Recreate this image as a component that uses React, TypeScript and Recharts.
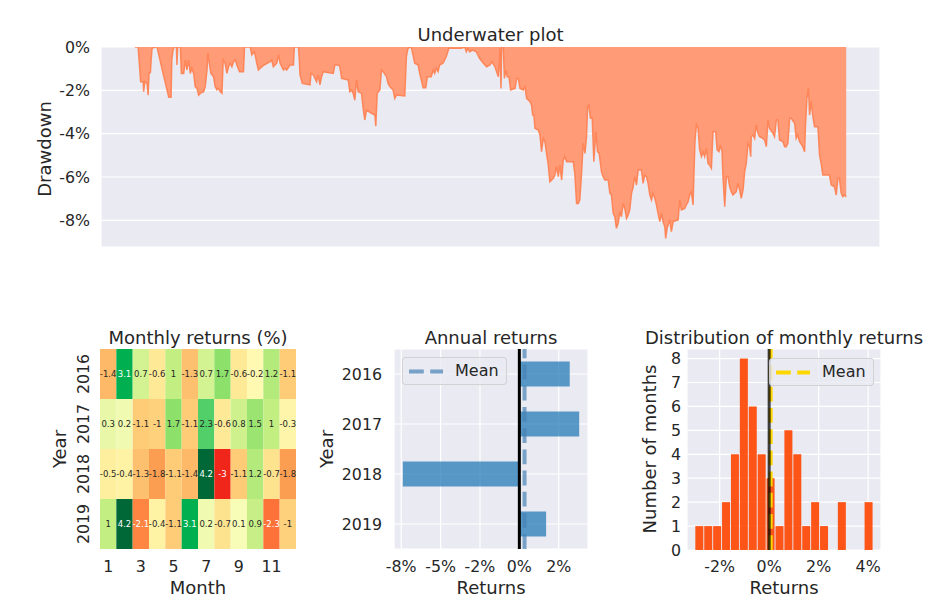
import React from "react";
import {
  AreaChart,
  Area,
  BarChart,
  Bar,
  Cell,
  LabelList,
  XAxis,
  YAxis,
  CartesianGrid,
  ReferenceLine,
} from "recharts";

const FONT = "'DejaVu Sans', sans-serif";
const INK = "#262626";
const PANEL = "#EAEAF2";

// underwater plot: [date as fractional year, drawdown in %]
const uw2016: [number, number][] = [
  [2016.0, 0], [2016.019, 0], [2016.022, -0.37], [2016.033, -1.6], [2016.047, -1.6], [2016.05, -2.06],
  [2016.056, -1.6], [2016.069, -1.68], [2016.075, -2.22], [2016.08, -1.22], [2016.088, -1.17], [2016.092, -0.6],
  [2016.097, -0.06], [2016.116, 0], [2016.125, 0], [2016.159, -1.22], [2016.191, -2.32], [2016.204, -2.32],
  [2016.208, -0.6], [2016.215, -0.14], [2016.222, 0], [2016.234, 0], [2016.237, -0.83], [2016.241, 0],
  [2016.256, 0], [2016.262, -1.22], [2016.275, -1.22], [2016.284, -0.6], [2016.293, -1.06], [2016.303, -0.6],
  [2016.312, -1.22], [2016.321, -0.98], [2016.331, -1.22], [2016.34, -1.83], [2016.35, -1.91], [2016.359, -2.22],
  [2016.368, -2.14], [2016.387, -2.06], [2016.396, -1.83], [2016.406, -1.06], [2016.411, -0.29], [2016.419, -0.75],
  [2016.428, -1.22], [2016.443, -1.37], [2016.452, -1.83], [2016.462, -1.98], [2016.471, -1.91], [2016.48, -2.06],
  [2016.49, -2.14], [2016.497, -0.6], [2016.508, -0.75], [2016.518, -1.22], [2016.527, -0.91], [2016.536, -0.75],
  [2016.546, -0.91], [2016.555, -0.68], [2016.565, -0.6], [2016.574, -0.83], [2016.589, -1.14], [2016.611, -1.14],
  [2016.617, 0], [2016.649, 0], [2016.658, -0.37], [2016.671, -0.22], [2016.677, -0.37], [2016.686, -0.75],
  [2016.695, -1.06], [2016.705, -0.98], [2016.727, -0.83], [2016.761, -0.68], [2016.77, -0.6], [2016.779, -0.91],
  [2016.798, -0.75], [2016.808, -0.37], [2016.817, -0.75], [2016.836, -1.06], [2016.845, -0.98], [2016.854, -1.06],
  [2016.873, -0.83], [2016.892, -0.83], [2016.897, 0], [2016.92, 0], [2016.925, -0.6], [2016.929, -1.29],
  [2016.942, -1.68], [2016.985, -1.75], [2016.991, -1.22],
];
const uw2017: [number, number][] = [
  [2017.004, -1.29], [2017.022, -1.6], [2017.031, -1.29], [2017.041, -1.75], [2017.05, -1.37], [2017.06, -1.14],
  [2017.116, -1.22], [2017.125, -0.83], [2017.144, -0.83], [2017.153, -0.91], [2017.163, -1.45], [2017.2, -1.52],
  [2017.209, -2.06], [2017.219, -1.98], [2017.228, -2.14], [2017.237, -2.45], [2017.247, -1.52], [2017.256, -2.06],
  [2017.275, -2.14], [2017.284, -2.83], [2017.293, -3.37], [2017.303, -2.91], [2017.331, -3.06], [2017.35, -3.14],
  [2017.355, -3.65], [2017.363, -2.14], [2017.378, -1.98], [2017.387, -1.06], [2017.396, -1.14], [2017.415, -1.37],
  [2017.424, -1.68], [2017.434, -1.83], [2017.452, -1.98], [2017.462, -2.37], [2017.471, -2.22], [2017.518, -2.26],
  [2017.527, -0.45], [2017.536, -0.06], [2017.555, 0], [2017.574, -0.75], [2017.593, -0.83], [2017.602, -1.22],
  [2017.611, -1.52], [2017.621, -1.88], [2017.636, -1.88], [2017.645, -1.37], [2017.667, -1.37], [2017.677, -1.06],
  [2017.686, -1.22], [2017.695, -0.98], [2017.705, -1.14], [2017.714, -0.83], [2017.733, -0.75], [2017.751, -0.45],
  [2017.766, -0.06], [2017.836, -0.06], [2017.855, 0], [2017.864, -0.22], [2017.873, -0.06], [2017.882, -0.22],
  [2017.901, -0.14], [2017.92, -0.22], [2017.938, -0.52], [2017.96, -0.75], [2017.978, -0.91], [2017.997, -0.83],
];
const uw2018: [number, number][] = [
  [2018.007, -0.68], [2018.025, -0.91], [2018.044, -1.37], [2018.05, -0.75], [2018.053, -0.06], [2018.059, -1.91],
  [2018.063, 0], [2018.072, 0], [2018.078, -1.45], [2018.087, -1.06], [2018.094, -1.37], [2018.104, -1.37],
  [2018.113, -1.98], [2018.138, -1.91], [2018.147, -1.45], [2018.156, -1.45], [2018.166, -1.91], [2018.184, -1.98],
  [2018.194, -1.83], [2018.203, -2.37], [2018.222, -2.52], [2018.231, -2.68], [2018.237, -3.14], [2018.244, -3.14],
  [2018.25, -3.75], [2018.269, -3.83], [2018.278, -4.06], [2018.287, -4.83], [2018.297, -4.22], [2018.306, -4.37],
  [2018.315, -4.91], [2018.325, -5.45], [2018.334, -6.22], [2018.353, -6.06], [2018.362, -5.91], [2018.371, -5.52],
  [2018.381, -5.98], [2018.39, -5.45], [2018.4, -6.14], [2018.409, -5.22], [2018.418, -5.06], [2018.428, -5.29],
  [2018.465, -5.29], [2018.474, -5.83], [2018.484, -7.22], [2018.493, -7.22], [2018.502, -7.06], [2018.512, -5.83],
  [2018.521, -4.45], [2018.531, -4.91], [2018.54, -4.14], [2018.546, -2.75], [2018.553, -2.68], [2018.562, -3.29],
  [2018.572, -3.29], [2018.581, -5.29], [2018.592, -3.91], [2018.602, -4.83], [2018.611, -4.91], [2018.624, -5.75],
  [2018.633, -5.98], [2018.643, -6.14], [2018.662, -6.14], [2018.671, -6.75], [2018.68, -6.83], [2018.69, -7.68],
  [2018.699, -7.83], [2018.708, -8.37], [2018.718, -8.14], [2018.727, -7.6], [2018.736, -7.83], [2018.746, -7.22],
  [2018.755, -7.45], [2018.765, -7.91], [2018.774, -7.75], [2018.783, -7.52], [2018.793, -6.75], [2018.802, -6.45],
  [2018.811, -5.98], [2018.821, -6.37], [2018.83, -5.68], [2018.849, -5.68], [2018.858, -6.29], [2018.867, -5.91],
  [2018.877, -5.98], [2018.886, -6.29], [2018.896, -6.83], [2018.905, -7.06], [2018.914, -6.75], [2018.924, -6.98],
  [2018.933, -7.29], [2018.942, -7.68], [2018.952, -8.06], [2018.961, -7.68], [2018.97, -8.06], [2018.98, -8.29],
  [2018.985, -8.83], [2018.993, -8.37],
];
const uw2019: [number, number][] = [
  [2019.008, -7.98], [2019.017, -8.52], [2019.027, -8.06], [2019.055, -7.98], [2019.064, -7.06], [2019.073, -7.52],
  [2019.092, -7.45], [2019.101, -7.29], [2019.111, -7.14], [2019.12, -6.83], [2019.129, -6.68], [2019.139, -7.29],
  [2019.144, -5.83], [2019.15, -4.29], [2019.158, -3.6], [2019.167, -3.75], [2019.176, -4.75], [2019.186, -5.06],
  [2019.195, -4.83], [2019.204, -5.06], [2019.214, -4.68], [2019.223, -5.37], [2019.232, -5.45], [2019.242, -5.6],
  [2019.251, -3.91], [2019.266, -3.91], [2019.274, -4.75], [2019.285, -4.83], [2019.292, -4.52], [2019.302, -4.83],
  [2019.307, -5.98], [2019.317, -7.37], [2019.326, -5.98], [2019.335, -5.98], [2019.345, -6.45], [2019.354, -6.68],
  [2019.363, -6.83], [2019.382, -6.68], [2019.391, -6.29], [2019.401, -6.6], [2019.41, -6.98], [2019.42, -6.6],
  [2019.429, -5.75], [2019.438, -5.37], [2019.448, -4.45], [2019.457, -4.6], [2019.463, -5.06], [2019.466, -4.14],
  [2019.476, -4.06], [2019.485, -4.22], [2019.494, -3.6], [2019.504, -3.98], [2019.513, -4.14], [2019.532, -4.22],
  [2019.541, -4.29], [2019.551, -4.6], [2019.56, -3.37], [2019.569, -3.75], [2019.588, -3.98], [2019.597, -4.14],
  [2019.607, -3.37], [2019.616, -3.37], [2019.625, -4.29], [2019.644, -4.37], [2019.654, -4.6], [2019.663, -4.6],
  [2019.672, -4.45], [2019.682, -3.29], [2019.691, -3.29], [2019.71, -3.52], [2019.719, -4.22], [2019.728, -4.06],
  [2019.738, -4.37], [2019.756, -4.6], [2019.766, -4.83], [2019.771, -3.6], [2019.779, -2.37], [2019.788, -1.91],
  [2019.794, -3.14], [2019.803, -2.52], [2019.813, -3.22], [2019.822, -3.68], [2019.841, -3.68], [2019.85, -4.98],
  [2019.859, -5.37], [2019.869, -5.91], [2019.906, -5.91], [2019.916, -6.37], [2019.934, -6.45], [2019.944, -6.83],
  [2019.953, -6.06], [2019.962, -6.06], [2019.972, -6.75], [2019.981, -6.91], [2019.99, -6.83], [2020.0, -6.91],
];
const uwTicks = [2016, 2016.5, 2017, 2017.5, 2018, 2018.5, 2019, 2019.5, 2020];
const ddTicks = [0, -2, -4, -6, -8];

// monthly returns heatmap (%)
const years = ["2016", "2017", "2018", "2019"];
const ret2016 = [-1.4, 3.1, 0.7, -0.6, 1, -1.3, 0.7, 1.7, -0.6, -0.2, 1.2, -1.1];
const ret2017 = [0.3, 0.2, -1.1, -1, 1.7, -1.1, 2.3, -0.6, 0.8, 1.5, 1, -0.3];
const ret2018 = [-0.5, -0.4, -1.3, -1.8, -1.1, -1.4, 4.2, -3, -1.1, 1.2, -0.7, -1.8];
const ret2019 = [1, 4.2, -2.1, -0.4, -1.1, 3.1, 0.2, -0.7, 0.1, 0.9, -2.3, -1];
const monthTicks = [0.5, 2.5, 4.5, 6.5, 8.5, 10.5];
const monthTickLabels = ["1", "3", "5", "7", "9", "11"];

// annual returns (%)
const annualReturns = [3.2, 3.8, -7.4, 1.7];
const annualMean = 0.33;
const annualTicks = [-7.5, -5, -2.5, 0, 2.5];
const annualTickLabels = ["-8%", "-5%", "-2%", "0%", "2%"];

// distribution of monthly returns
const histCenters = [-2.82, -2.46, -2.1, -1.74, -1.38, -1.02, -0.66, -0.3, 0.06, 0.42, 0.78, 1.14, 1.5, 1.86, 2.22, 2.58, 2.94, 3.3, 3.66, 4.02];
const histCounts = [1, 1, 1, 2, 4, 8, 6, 4, 3, 1, 5, 4, 1, 2, 1, 0, 2, 0, 0, 2];
const histMean = 0.06;
const histXTicks = [-2, 0, 2, 4];
const histYTicks = [0, 1, 2, 3, 4, 5, 6, 7, 8];

const underwaterData = [...uw2016, ...uw2017, ...uw2018, ...uw2019].map(([t, dd]) => ({ t, dd }));

const monthlyByYear = [ret2016, ret2017, ret2018, ret2019];
const heatRows = years.map((year, i) => {
  const row: Record<string, any> = { year };
  monthlyByYear[i].forEach((v, m) => {
    row[`m${m + 1}`] = 1;
    row[`r${m + 1}`] = v;
  });
  return row;
});

const annualData = years.map((year, i) => ({ year, ret: annualReturns[i] }));
const histData = histCenters.map((c, i) => ({ c, n: histCounts[i] }));

const heatStops: [number, number[]][] = [
  [-3.0, [240, 38, 26]],
  [-2.2, [255, 125, 60]],
  [-1.8, [252, 158, 82]],
  [-1.3, [253, 192, 110]],
  [-0.9, [254, 214, 128]],
  [-0.5, [254, 239, 158]],
  [0, [255, 255, 191]],
  [0.3, [232, 247, 168]],
  [1.0, [195, 238, 130]],
  [1.7, [141, 224, 106]],
  [2.3, [82, 207, 105]],
  [3.1, [0, 176, 80]],
  [4.2, [0, 104, 55]],
];

function heatColor(v: number) {
  for (let i = 1; i < heatStops.length; i++) {
    const [v1, c1] = heatStops[i];
    const [v0, c0] = heatStops[i - 1];
    if (v <= v1 || i === heatStops.length - 1) {
      const f = Math.max(0, Math.min(1, (v - v0) / (v1 - v0)));
      const c = c0.map((x, k) => Math.round(x + (c1[k] - x) * f));
      return `rgb(${c[0]},${c[1]},${c[2]})`;
    }
  }
  return "#ffffbf";
}

const TICK_SIZE = 15.8;
const LABEL_SIZE = 18;
const tickStyle = { fill: INK, fontSize: TICK_SIZE, fontFamily: FONT };

function Txt({ x, y, size = LABEL_SIZE, rotate = false, children }: any) {
  return (
    <div
      style={{
        position: "absolute",
        left: x,
        top: y,
        transform: `translate(-50%, -50%)${rotate ? " rotate(-90deg)" : ""}`,
        fontSize: size,
        color: INK,
        whiteSpace: "nowrap",
        lineHeight: 1,
      }}
    >
      {children}
    </div>
  );
}

function MeanLegend({ x, y, color, opacity }: any) {
  return (
    <div
      style={{
        position: "absolute",
        left: x,
        top: y,
        width: 105,
        height: 28,
        boxSizing: "border-box",
        background: "rgba(234,234,242,0.8)",
        border: "1px solid rgba(204,204,204,0.8)",
        borderRadius: 4,
      }}
    >
      <svg width={40} height={28} style={{ position: "absolute", left: 5, top: 0 }}>
        <line x1={1} x2={35} y1={13.5} y2={13.5} stroke={color} strokeOpacity={opacity} strokeWidth={4} strokeDasharray="14.8 6.4" />
      </svg>
      <span style={{ position: "absolute", left: 52, top: 5, fontSize: 16, color: INK, lineHeight: 1 }}>Mean</span>
    </div>
  );
}

const RotatedYearTick = (p: any) => (
  <text
    x={p.x}
    y={p.y}
    transform={`rotate(-90 ${p.x} ${p.y})`}
    textAnchor="middle"
    dominantBaseline="central"
    fill={INK}
    fontSize={TICK_SIZE}
    fontFamily={FONT}
  >
    {p.payload.value}
  </text>
);

const HeatLabel = (p: any) => {
  const { x, y, width, height, value } = p;
  const v = Number(value);
  const light = v >= 3 || v <= -2;
  return (
    <text
      x={x + width / 2}
      y={y + height / 2}
      textAnchor="middle"
      dominantBaseline="central"
      fontSize={8.5}
      fontFamily={FONT}
      fill={light ? "#ffffff" : INK}
    >
      {String(v)}
    </text>
  );
};

export default function App() {
  return (
    <div
      style={{
        position: "absolute",
        left: 0,
        top: 0,
        width: 942,
        height: 603,
        background: "#fff",
        fontFamily: FONT,
        overflow: "hidden",
      }}
    >
      {/* Underwater plot */}
      <div style={{ position: "absolute", left: 0, top: 0 }}>
        <AreaChart width={942} height={260} data={underwaterData} margin={{ top: 47, right: 62, bottom: 12, left: 41 }}>
          <CartesianGrid fill={PANEL} stroke="#ffffff" strokeWidth={1.2} />
          <XAxis
            type="number"
            dataKey="t"
            domain={[2015.81, 2020.19]}
            ticks={uwTicks}
            interval={0}
            allowDataOverflow
            tick={false}
            tickLine={false}
            axisLine={false}
            height={1}
          />
          <YAxis
            type="number"
            domain={[-9.23, 0]}
            ticks={ddTicks}
            interval={0}
            allowDataOverflow
            tickFormatter={(v) => `${v}%`}
            tick={tickStyle}
            tickLine={false}
            axisLine={false}
            tickSize={0}
            tickMargin={11}
            width={60}
          />
          <Area
            type="linear"
            dataKey="dd"
            baseValue={0}
            stroke="#FF7F50"
            strokeOpacity={0.9}
            strokeWidth={1.5}
            fill="#FF9B77"
            fillOpacity={1}
            isAnimationActive={false}
          />
        </AreaChart>
      </div>
      <Txt x={490.5} y={35}>Underwater plot</Txt>
      <Txt x={45} y={149} rotate>Drawdown</Txt>

      {/* Monthly returns heatmap */}
      <div style={{ position: "absolute", left: 40, top: 330 }}>
        <BarChart
          width={270}
          height={270}
          data={heatRows}
          layout="vertical"
          barCategoryGap={0}
          margin={{ top: 19, right: 14, bottom: 21, left: 20 }}
        >
          <XAxis
            type="number"
            domain={[0, 12]}
            ticks={monthTicks}
            interval={0}
            tickFormatter={(v) => monthTickLabels[monthTicks.indexOf(v)]}
            tick={tickStyle}
            tickLine={false}
            axisLine={false}
            tickSize={0}
            tickMargin={12}
            height={30}
          />
          <YAxis
            type="category"
            dataKey="year"
            tick={<RotatedYearTick />}
            tickLine={false}
            axisLine={false}
            tickSize={0}
            tickMargin={17}
            width={40}
          />
          {monthlyByYear[0].map((_, m) => (
            <Bar key={m} dataKey={`m${m + 1}`} stackId="heat" isAnimationActive={false}>
              {heatRows.map((row, i) => (
                <Cell key={i} fill={heatColor(row[`r${m + 1}`])} />
              ))}
              <LabelList dataKey={`r${m + 1}`} content={HeatLabel} />
            </Bar>
          ))}
        </BarChart>
      </div>
      <Txt x={198} y={338}>Monthly returns (%)</Txt>
      <Txt x={198} y={588}>Month</Txt>
      <Txt x={60} y={449} rotate>Year</Txt>

      {/* Annual returns */}
      <div style={{ position: "absolute", left: 310, top: 330 }}>
        <BarChart
          width={290}
          height={270}
          data={annualData}
          layout="vertical"
          barCategoryGap="25%"
          margin={{ top: 19, right: 12, bottom: 21, left: 24 }}
        >
          <CartesianGrid fill={PANEL} stroke="#ffffff" strokeWidth={1.2} />
          <XAxis
            type="number"
            domain={[-7.96, 4.36]}
            ticks={annualTicks}
            interval={0}
            allowDataOverflow
            tickFormatter={(v) => annualTickLabels[annualTicks.indexOf(v)]}
            tick={tickStyle}
            tickLine={false}
            axisLine={false}
            tickSize={0}
            tickMargin={12}
            height={30}
          />
          <YAxis
            type="category"
            dataKey="year"
            tick={tickStyle}
            tickLine={false}
            axisLine={false}
            tickSize={0}
            tickMargin={12}
            width={60}
          />
          <Bar dataKey="ret" fill="#1f77b4" fillOpacity={0.72} isAnimationActive={false} />
          <ReferenceLine x={annualMean} stroke="#4682B4" strokeOpacity={0.7} strokeWidth={4} strokeDasharray="14.8 6.4" />
          <ReferenceLine x={0} stroke="#000000" strokeWidth={3} />
        </BarChart>
      </div>
      <MeanLegend x={402} y={357} color="#4682B4" opacity={0.7} />
      <Txt x={491} y={338}>Annual returns</Txt>
      <Txt x={491} y={588}>Returns</Txt>
      <Txt x={327} y={449} rotate>Year</Txt>

      {/* Distribution of monthly returns */}
      <div style={{ position: "absolute", left: 620, top: 330 }}>
        <BarChart
          width={300}
          height={270}
          data={histData}
          barCategoryGap={0.4}
          margin={{ top: 19, right: 39, bottom: 20, left: 27 }}
        >
          <CartesianGrid fill={PANEL} stroke="#ffffff" strokeWidth={1.2} />
          <XAxis
            type="number"
            dataKey="c"
            domain={[-3.32, 4.52]}
            ticks={histXTicks}
            interval={0}
            allowDataOverflow
            tickFormatter={(v) => `${v}%`}
            tick={tickStyle}
            tickLine={false}
            axisLine={false}
            tickSize={0}
            tickMargin={11}
            height={30}
          />
          <YAxis
            type="number"
            domain={[0, 8.4]}
            ticks={histYTicks}
            interval={0}
            allowDataOverflow
            tick={tickStyle}
            tickLine={false}
            axisLine={false}
            tickSize={0}
            tickMargin={6}
            width={40}
          />
          <Bar dataKey="n" fill="#FF4500" fillOpacity={0.9} isAnimationActive={false} />
          <ReferenceLine x={histMean} stroke="#FFD700" strokeWidth={4} strokeDasharray="14.8 6.4" />
          <ReferenceLine x={0} stroke="#000000" strokeOpacity={0.75} strokeWidth={3} />
        </BarChart>
      </div>
      <MeanLegend x={769} y={358} color="#FFD700" opacity={1} />
      <Txt x={784} y={338}>Distribution of monthly returns</Txt>
      <Txt x={784} y={588}>Returns</Txt>
      <Txt x={650} y={449} rotate>Number of months</Txt>
    </div>
  );
}
